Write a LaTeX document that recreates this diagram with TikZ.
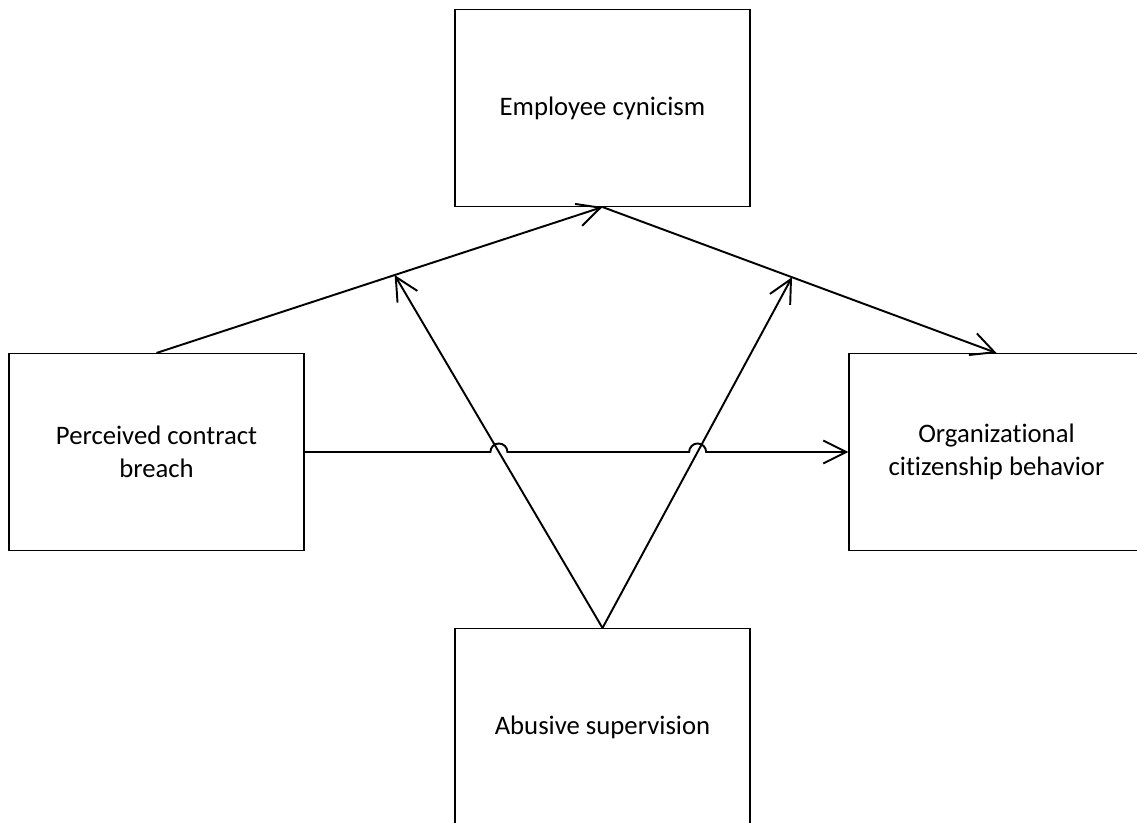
\documentclass[tikz,border=0pt]{standalone}
\usepackage{fontspec}
\setmainfont{Carlito}[Ligatures=NoCommon]
\usetikzlibrary{arrows.meta,calc}

\begin{document}
\begin{tikzpicture}[
    varbox/.style={rectangle, draw, line width=0.6pt, minimum width=5.9cm, minimum height=3.94cm, align=center, font=\fontsize{15.2}{18.5}\selectfont},
    link/.style={-{Straight Barb[length=4.6mm,width=4.6mm]}, line width=1.1pt}
]
    \useasboundingbox (0,0) rectangle (22.74,16.44);

    \node[varbox] (ec) at (12.05,14.28) {Employee cynicism};
    \node[varbox] (pcb) at (3.13,7.4) {Perceived contract\\breach};
    \node[varbox] (ocb) at (19.93,7.4) {Organizational\\citizenship behavior};
    \node[varbox] (as) at (12.05,1.9) {Abusive supervision};

    \coordinate (m1) at ($(pcb.north)!0.534!(ec.south)$);
    \coordinate (m2) at ($(ec.south)!0.481!(ocb.north)$);

    \draw[link] (pcb.north) -- (ec.south);
    \draw[link] (ec.south) -- (ocb.north);
    \draw[link] (as.north) -- (m1);
    \draw[link] (as.north) -- (m2);

    % line hops where the moderator arrows cross
    \coordinate (x1) at (intersection of pcb.east--ocb.west and as.north--m1);
    \coordinate (x2) at (intersection of pcb.east--ocb.west and as.north--m2);
    \draw[link] (pcb.east) -- ([xshift=-0.17cm]x1) arc[start angle=180, end angle=0, radius=0.17cm]
        -- ([xshift=-0.17cm]x2) arc[start angle=180, end angle=0, radius=0.17cm] -- (ocb.west);
\end{tikzpicture}
\end{document}
